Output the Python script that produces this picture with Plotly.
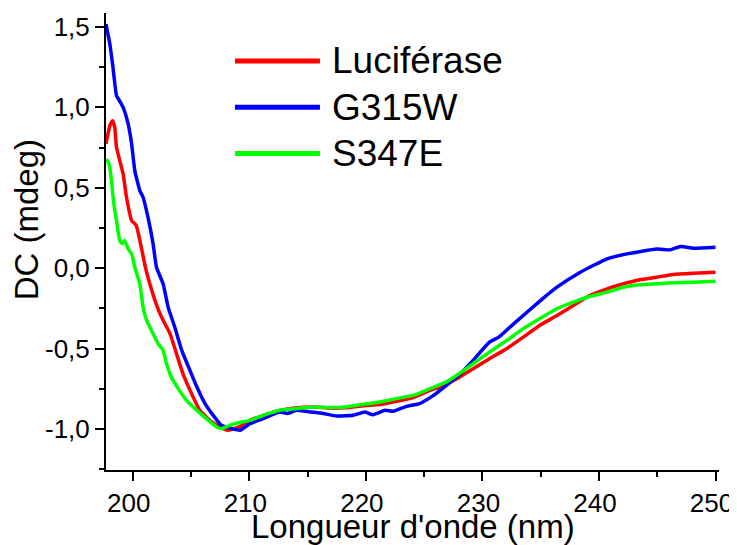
import plotly.graph_objects as go

# CD spectra
luc_nm = [197.7, 198.03, 198.26, 198.45, 198.6, 198.88, 199.17, 199.46, 199.9, 200.3, 200.73, 201.1,
          201.46, 201.9, 202.46, 203.2, 203.75, 204.3, 205.04, 205.75, 206.6, 207.5, 208.2, 209.2,
          210.05, 211.2, 212.6, 214.05, 215.5, 216.9, 218.3, 219.8, 221.2, 222.6, 224.06, 225.5,
          226.35, 227.8, 229.2, 230.6, 232.1, 233.5, 234.9, 236.4, 237.8, 239.2, 240.7, 242.1,
          243.5, 244.95, 246.35, 248.1, 250.0]
luc_dc = [0.773, 0.886, 0.917, 0.876, 0.752, 0.669, 0.586, 0.441, 0.296, 0.265, 0.13, 0.0,
          -0.097, -0.2, -0.304, -0.408, -0.532, -0.656, -0.78, -0.884, -0.946, -0.988, -1.008, -0.985,
          -0.946, -0.915, -0.884, -0.868, -0.863, -0.87, -0.868, -0.855, -0.848, -0.828, -0.805, -0.76,
          -0.739, -0.687, -0.625, -0.563, -0.5, -0.429, -0.356, -0.294, -0.232, -0.17, -0.128, -0.097,
          -0.072, -0.056, -0.039, -0.031, -0.025]

g315w_nm = [197.7, 198.03, 198.3, 198.6, 198.94, 199.17, 199.6, 199.9, 200.17, 200.6, 200.88, 201.3,
            201.74, 202.03, 202.6, 203.03, 203.6, 204.2, 204.9, 205.5, 206.2, 206.9, 207.6, 208.5,
            209.2, 210.05, 211.2, 212.6, 213.3, 214.05, 215.2, 216.35, 217.5, 218.9, 219.9, 220.6,
            221.65, 222.35, 223.5, 224.6, 225.8, 226.9, 227.8, 229.2, 230.6, 231.4, 232.7, 235.0,
            236.4, 238.4, 240.7, 242.4, 244.95, 246.1, 247.0, 248.1, 250.0]
g315w_dc = [1.518, 1.394, 1.248, 1.073, 1.031, 1.0, 0.897, 0.773, 0.607, 0.483, 0.441, 0.317,
            0.152, 0.006, -0.097, -0.242, -0.366, -0.511, -0.635, -0.739, -0.842, -0.915, -0.977, -0.998,
            -1.008, -0.967, -0.935, -0.894, -0.904, -0.884, -0.894, -0.904, -0.919, -0.915, -0.894, -0.911,
            -0.884, -0.89, -0.859, -0.842, -0.791, -0.729, -0.677, -0.573, -0.46, -0.429, -0.345, -0.2,
            -0.118, -0.025, 0.058, 0.089, 0.12, 0.114, 0.135, 0.124, 0.13]

s347e_nm = [197.74, 197.97, 198.17, 198.37, 198.6, 198.88, 199.1, 199.3, 199.6, 199.9, 200.17, 200.6,
            200.88, 201.18, 201.6, 202.17, 202.6, 202.9, 203.3, 204.0, 204.6, 205.5, 206.3, 207.2,
            207.6, 208.33, 209.2, 210.05, 211.2, 212.6, 214.05, 215.5, 216.9, 218.3, 219.8, 221.2,
            222.6, 224.06, 225.5, 226.9, 227.8, 229.2, 230.6, 232.1, 233.5, 234.9, 236.4, 237.8,
            239.2, 240.7, 242.1, 243.5, 244.95, 246.35, 248.1, 250.0]
s347e_dc = [0.679, 0.648, 0.545, 0.4, 0.296, 0.172, 0.152, 0.172, 0.12, 0.089, 0.006, -0.097,
            -0.242, -0.325, -0.387, -0.47, -0.511, -0.594, -0.677, -0.76, -0.822, -0.884, -0.935, -0.988,
            -0.998, -0.977, -0.96, -0.946, -0.915, -0.884, -0.873, -0.863, -0.867, -0.863, -0.847, -0.832,
            -0.811, -0.791, -0.749, -0.708, -0.666, -0.594, -0.522, -0.449, -0.376, -0.314, -0.252, -0.211,
            -0.176, -0.149, -0.118, -0.103, -0.097, -0.091, -0.087, -0.081]

names = ["Luciférase", "G315W", "S347E"]
colors = ["#ff0000", "#0000ff", "#00ff00"]

y_tickvals = [-1.0, -0.5, 0.0, 0.5, 1.0, 1.5]
y_ticktext = ["-1,0", "-0,5", "0,0", "0,5", "1,0", "1,5"]
x_tickvals = [200, 210, 220, 230, 240, 250]

FONT = "Liberation Sans, Arial, Helvetica, sans-serif"

fig = go.Figure()
series = [(luc_nm, luc_dc), (g315w_nm, g315w_dc), (s347e_nm, s347e_dc)]
for (x, y), name, c in zip(series, names, colors):
    fig.add_trace(go.Scatter(x=x, y=y, mode="lines", name=name,
                             line=dict(color=c, width=3.5, shape="spline", smoothing=0.4),
                             showlegend=False))

# hand-made legend (long line keys like the original)
for i, (name, c) in enumerate(zip(names, colors)):
    yy = 0.895 - i * 0.1012
    fig.add_shape(type="line", xref="paper", yref="paper", x0=0.2104, x1=0.349, y0=yy, y1=yy,
                  line=dict(color=c, width=5))
    fig.add_annotation(text=name, xref="paper", yref="paper", x=0.3654, y=yy, xanchor="left",
                       yanchor="middle", showarrow=False, font=dict(size=37, color="black", family=FONT))

# axis titles
fig.add_annotation(text="DC (mdeg)", xref="paper", yref="paper", x=-0.13, y=0.547, textangle=-90,
                   showarrow=False, xanchor="center", yanchor="middle",
                   font=dict(size=33, color="black", family=FONT))
fig.add_annotation(text="Longueur d'onde (nm)", xref="paper", yref="paper", x=0.5, y=-0.1235,
                   showarrow=False, xanchor="center", yanchor="middle",
                   font=dict(size=33, color="black", family=FONT))

fig.update_xaxes(range=[197.7, 250.3], tickvals=x_tickvals, showline=True,
                 linecolor="black", linewidth=2, ticks="outside", ticklen=9, tickwidth=2,
                 tickcolor="black", showgrid=False, zeroline=False, automargin=False,
                 ticklabeloverflow="allow", ticklabelshift=-4,
                 tickfont=dict(size=26, color="black", family=FONT),
                 minor=dict(dtick=5, tick0=200, ticks="outside", ticklen=5, tickwidth=2, tickcolor="black",
                            showgrid=False))
fig.update_yaxes(range=[-1.255, 1.587], tickvals=y_tickvals, ticktext=y_ticktext, showline=True,
                 linecolor="black", linewidth=2, ticks="outside", ticklen=9, tickwidth=2,
                 tickcolor="black", showgrid=False, zeroline=False, automargin=False,
                 ticklabelstandoff=0,
                 tickfont=dict(size=26, color="black", family=FONT),
                 minor=dict(dtick=0.25, tick0=0, ticks="outside", ticklen=5, tickwidth=2,
                            tickcolor="black", showgrid=False))

# page body has an 8px margin, so the figure is 8px smaller and margins shifted
fig.update_layout(template="none", width=729, height=537, margin=dict(l=98, r=18, t=5, b=75),
                  plot_bgcolor="white", paper_bgcolor="white", showlegend=False,
                  font=dict(family=FONT, color="black"))

fig.write_html("out.html")
